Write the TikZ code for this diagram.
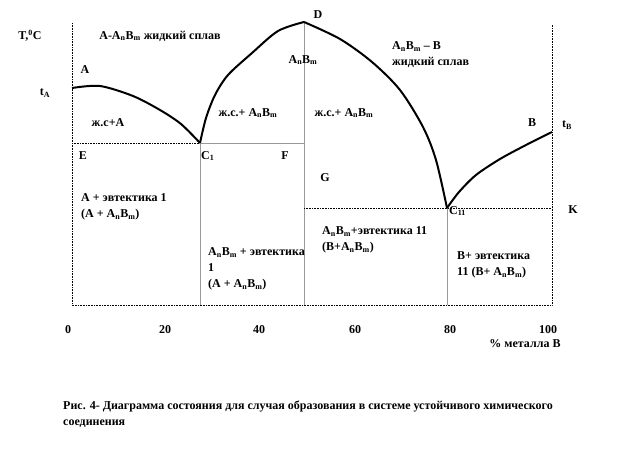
\documentclass[tikz,border=0pt]{standalone}
\usepackage{fontspec}
\setmainfont{Liberation Serif}
\usepackage{tikz}
\usetikzlibrary{arrows,positioning}
\def\anbm{A\textsubscript{n}B\textsubscript{m}}
\tikzset{axisline/.style={black,densely dotted,line width=0.6pt},
  phaseline/.style={gray!80,line width=0.8pt},
  liquidus/.style={black,line width=2pt,line join=round},
  lbl/.style={inner sep=0pt,font=\bfseries\fontsize{12}{16}\selectfont},
  block/.style={lbl,align=left,anchor=west}}

\begin{document}
\begin{tikzpicture}[x=1pt,y=-1pt]
\useasboundingbox (0,0) rectangle (640,469);
\coordinate (top) at (72,23);
\coordinate (O) at (72,305);
\coordinate (R) at (552,305);
\coordinate (Rtop) at (552,25);
\coordinate (E) at (72,143);
\coordinate (C1) at (200,143);
\coordinate (F) at (304,143);
\coordinate (D) at (304,22);
\coordinate (Gl) at (304,208);
\coordinate (C11) at (447,208);
\coordinate (K) at (552,208);
\coordinate (tA) at (72,88);
\coordinate (tB) at (552,132);
      \draw[axisline] (top) -- (O) -- (R) -- (Rtop);
      \draw[axisline] (E) -- (C1);
      \draw[phaseline] (C1) -- (F);
      \draw[phaseline] (C1) -- (C1 |- O);
      \draw[phaseline] (D) -- (D |- O);
      \draw[axisline] (Gl) -- (C11) -- (K);
      \draw[phaseline] (C11) -- (C11 |- O);
      \draw[liquidus] plot[smooth] coordinates {(tA) (100,86) (133,96) (160,110) (181,124) (C1)};
      \draw[liquidus] plot[smooth] coordinates {(C1) (206,118) (215,95) (228,75) (252,53) (278,31) (D)};
      \draw[liquidus] plot[smooth] coordinates {(D) (340,39) (372,62) (400,90) (423,127) (436,160) (447,208)};
      \draw[liquidus] plot[smooth] coordinates {(C11) (459,192) (476,175) (500,159) (526,145) (tB)};
\node[lbl] (tc) at (30,36) {T,\textsuperscript{0}C};
\node[lbl] (liqA) at (160,36) {A-\anbm{} жидкий сплав};
\node[lbl] (nA) at (85,70) {A};
\node[lbl] (ntA) at (45,93) {t\textsubscript{A}};
\node[lbl] (zsA) at (108,123) {ж.с+А};
\node[lbl] (zsAB) at (248,113) {ж.с.+ \anbm};
\node[lbl] (nAB) at (303,60) {\anbm};
\node[lbl] (nD) at (318,15) {D};
\node[block] (liqB) at (392,55) {\anbm{} – B\\жидкий сплав};
\node[lbl] (zsABr) at (344,113) {ж.с.+ \anbm};
\node[lbl] (nB) at (532,123) {B};
\node[lbl] (ntB) at (567,125) {t\textsubscript{B}};
\node[lbl] (nE) at (83,156) {E};
\node[lbl,anchor=west] (nC1) at (201,156) {C\textsubscript{1}};
\node[lbl] (nF) at (285,156) {F};
\node[lbl] (nG) at (325,178) {G};
\node[block] (eut1) at (81,207) {A + эвтектика 1\\(A + \anbm)};
\node[block] (eut1r) at (208,269) {\anbm{} + эвтектика\\1\\(A + \anbm)};
\node[block] (eut2) at (322,240) {\anbm+эвтектика 11\\(B+\anbm)};
\node[lbl,anchor=west] (nC11) at (449,211) {C\textsubscript{11}};
\node[lbl] (nK) at (573,210) {K};
\node[block] (eut2r) at (457,265) {B+ эвтектика\\11 (B+ \anbm)};
\foreach \x/\v in {68/0,165/20,259/40,355/60,450/80,548/100}
  \node[lbl] (tick\v) at (\x,330) {\v};
\node[lbl] (xlab) at (525,344) {\% металла В};
\node[block] (cap) at (63,414) {Рис. 4- Диаграмма состояния для случая образования в системе устойчивого химического\\соединения};
\end{tikzpicture}
\end{document}
